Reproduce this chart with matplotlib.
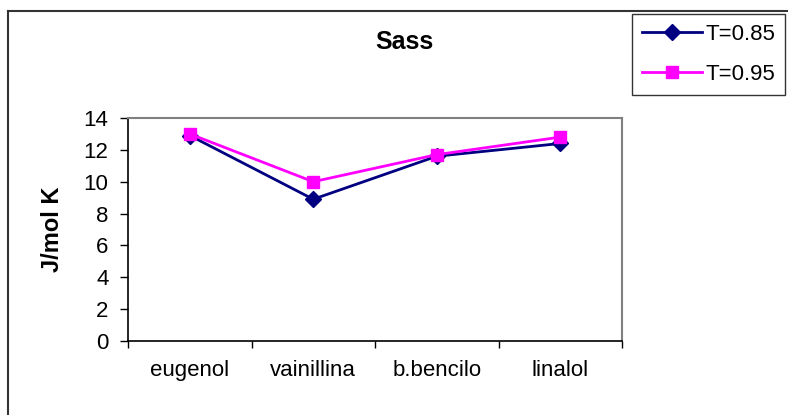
import matplotlib
matplotlib.use("Agg")
from matplotlib import pyplot as plt
from matplotlib.lines import Line2D

plt.rcParams['font.family'] = ['Liberation Sans', 'DejaVu Sans']

categories = ["eugenol", "vainillina", "b.bencilo", "linalol"]
t085 = [12.9, 8.9, 11.6, 12.4]
t095 = [13.0, 10.0, 11.7, 12.8]
y_ticks = [0, 2, 4, 6, 8, 10, 12, 14]


def main():
    fig = plt.figure(figsize=(7.88, 4.15), dpi=100)
    W, H = 788.0, 415.0

    # outer chart-area border (only left and top visible in the reference)
    fig.add_artist(Line2D([7.5 / W, 7.5 / W], [0, 1 - 11 / H], color='#333333', lw=1.5,
                          transform=fig.transFigure))
    fig.add_artist(Line2D([7.5 / W, 1], [1 - 11 / H, 1 - 11 / H], color='#333333', lw=1.5,
                          transform=fig.transFigure))

    ax = fig.add_axes([128 / W, 1 - 341 / H, (622 - 128) / W, (341 - 118) / H])
    x = list(range(len(categories)))
    ax.plot(x, t085, color='#000080', lw=2, marker='D', markersize=8.5, label='T=0.85', zorder=3)
    ax.plot(x, t095, color='#FF00FF', lw=2, marker='s', markersize=9, label='T=0.95', zorder=4)

    ax.set_xlim(-0.5, len(categories) - 0.5)
    ax.set_ylim(0, 14)
    ax.set_yticks(y_ticks)
    ax.set_yticklabels([str(v) for v in y_ticks], fontsize=16)
    ax.set_xticks([i - 0.5 for i in range(len(categories) + 1)])
    ax.set_xticklabels([])
    ax.set_xticks(x, minor=True)
    ax.set_xticklabels(categories, minor=True, fontsize=16)
    ax.tick_params(axis='x', which='minor', length=0, pad=14)
    ax.tick_params(axis='x', which='major', direction='out', length=5, width=1)
    ax.tick_params(axis='y', direction='out', length=6, width=1, pad=8)

    for side in ('left', 'bottom'):
        ax.spines[side].set_color('black')
        ax.spines[side].set_linewidth(1.2)
    for side in ('top', 'right'):
        ax.spines[side].set_color('#808080')
        ax.spines[side].set_linewidth(1.5)

    ax.set_ylabel("J/mol K", fontsize=17, fontweight='bold', labelpad=14)
    fig.text(404 / W, 1 - 42 / H, "Sass", fontsize=18, fontweight='bold',
             ha='center', va='center')

    leg = fig.legend(loc='upper left', bbox_to_anchor=(632 / W, 1 - 14 / H), fontsize=16,
                     frameon=True, fancybox=False, edgecolor='black', handlelength=2.7,
                     borderpad=0.45, labelspacing=0.85, handletextpad=0.15, borderaxespad=0)
    leg.get_frame().set_linewidth(1)

    fig.savefig("out.png", dpi=100)


if __name__ == "__main__":
    main()
